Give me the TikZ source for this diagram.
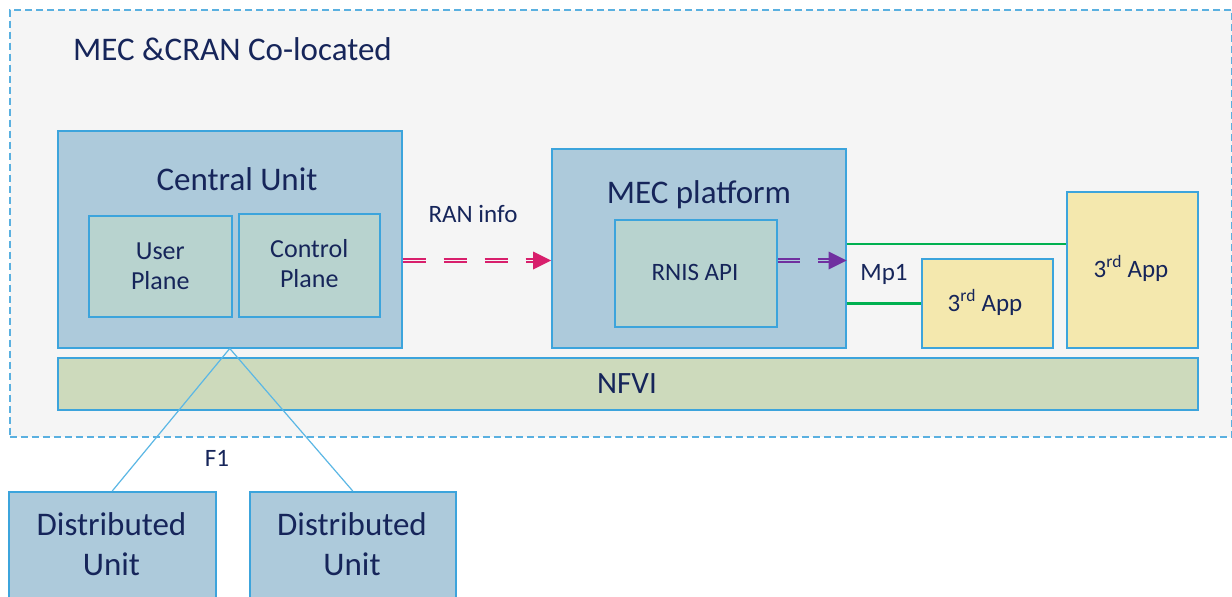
\documentclass[tikz,border=0pt]{standalone}
\usepackage{fontspec}
\setmainfont{Carlito}
\usetikzlibrary{calc}

\definecolor{pagebg}{HTML}{F5F5F5}
\definecolor{unitfill}{HTML}{ADCADB}
\definecolor{planefill}{HTML}{B8D3CF}
\definecolor{appfill}{HTML}{F4E8AE}
\definecolor{nfvifill}{HTML}{CDDABC}
\definecolor{edgeblue}{HTML}{3CA4DC}
\definecolor{dashblue}{HTML}{5AB0E0}
\definecolor{linkblue}{HTML}{5BB7E5}
\definecolor{txtnavy}{HTML}{16255A}
\definecolor{raninfo}{HTML}{D81F6C}
\definecolor{rnisflow}{HTML}{7030A0}
\definecolor{mpgreen}{HTML}{00B050}

\newcommand{\fsz}[2]{\fontsize{#1}{#2}\selectfont}

\begin{document}
\begin{tikzpicture}[x=1pt, y=-1pt,
  blk/.style={draw=edgeblue, line width=1.5pt, inner sep=0pt, anchor=north west},
  unitbox/.style={blk, fill=unitfill},
  planebox/.style={blk, fill=planefill},
  appbox/.style={blk, fill=appfill},
  lbl/.style={text=txtnavy, inner sep=0pt, align=center},
  bigtxt/.style={lbl, font=\fsz{33}{40}},
  midtxt/.style={lbl, font=\fsz{26}{30}},
  smalltxt/.style={lbl, font=\fsz{25}{30}},
  dbl/.style={line width=1.5pt, double distance=1.5pt, shorten >=18pt}
]
\useasboundingbox (0,0) rectangle (1232,597);
\fill[white] (0,0) rectangle (1232,597);
\clip (0,0) rectangle (1232,597);

% co-location frame
\node[draw=dashblue, fill=pagebg, line width=1.5pt, dash pattern=on 7pt off 4pt,
      inner sep=0pt, anchor=north west, minimum width=1222pt, minimum height=427pt]
      (colo) at (9,9) {};
\node[bigtxt, anchor=base west] (title) at (73,60) {MEC \&CRAN Co-located};

% central unit
\node[unitbox, minimum width=344pt, minimum height=217pt] (cu) at (57,130) {};
\node[bigtxt, anchor=base] (cut) at (237,190) {Central Unit};
\node[planebox, minimum width=143pt, minimum height=101pt] (up) at (88,215) {};
\node[planebox, minimum width=141pt, minimum height=103pt] (cp) at (238,213) {};
\node[midtxt] (upt) at (up.center) {User\\Plane};
\node[midtxt] (cpt) at ($(cp.center)+(0,-2)$) {Control\\Plane};

% MEC platform
\node[unitbox, minimum width=294pt, minimum height=199pt] (mec) at (551,148) {};
\node[bigtxt, anchor=base] (mect) at (699,203) {MEC platform};
\node[planebox, minimum width=162pt, minimum height=107pt] (rnis) at (614,219) {};
\node[smalltxt, anchor=base] (rnist) at (695,280) {RNIS API};

% applications
\node[appbox, minimum width=131pt, minimum height=89pt] (app1) at (921,258) {};
\node[appbox, minimum width=131pt, minimum height=156pt] (app2) at (1066,191) {};
\node[smalltxt, anchor=base] (app1t) at (985,311) {3\textsuperscript{rd} App};
\node[smalltxt, anchor=base] (app2t) at (1131,277) {3\textsuperscript{rd} App};

% NFVI
\node[blk, fill=nfvifill, minimum width=1140pt, minimum height=52pt] (nfvi) at (57,357) {};
\node[lbl, font=\fsz{31}{36}, anchor=base] (nfvit) at (627,393) {NFVI};

% RAN info flow
\coordinate (ranY) at (0,260.5);
\draw[raninfo, dbl, double=pagebg, dash pattern=on 23pt off 18pt]
  (cu.east |- ranY) -- (mec.west |- ranY);
\fill[raninfo] (mec.west |- ranY) -- ++(-18,9) -- ++(0,-18) -- cycle;
\node[smalltxt, anchor=base] (rant) at (473,222) {RAN info};

% RNIS towards Mp1
\draw[rnisflow, dbl, double=unitfill, dash pattern=on 22pt off 18pt]
  (rnis.east |- ranY) -- (mec.east |- ranY);
\fill[rnisflow] (mec.east |- ranY) -- ++(-18,9) -- ++(0,-18) -- cycle;

% Mp1 links
\coordinate (mpY) at (0,244);
\draw[mpgreen, line width=2.6pt] (mec.east |- mpY) -- (app2.west |- mpY);
\draw[mpgreen, line width=2.6pt] (app1.west -| mec.east) -- (app1.west);
\node[smalltxt, anchor=base] (mpt) at (884,280) {Mp1};

% distributed units and F1
\node[unitbox, minimum width=207pt, minimum height=150pt] (du1) at (8,491) {};
\node[unitbox, minimum width=206pt, minimum height=150pt] (du2) at (249,491) {};
\draw[linkblue, line width=1.2pt] (cu.south) -- (du1.north);
\draw[linkblue, line width=1.2pt] (cu.south) -- (du2.north);
\node[smalltxt, anchor=base] (f1t) at (217,466) {F1};
\node[bigtxt] (du1t) at (111.5,544) {Distributed\\Unit};
\node[bigtxt] (du2t) at (352,544) {Distributed\\Unit};
\end{tikzpicture}
\end{document}
